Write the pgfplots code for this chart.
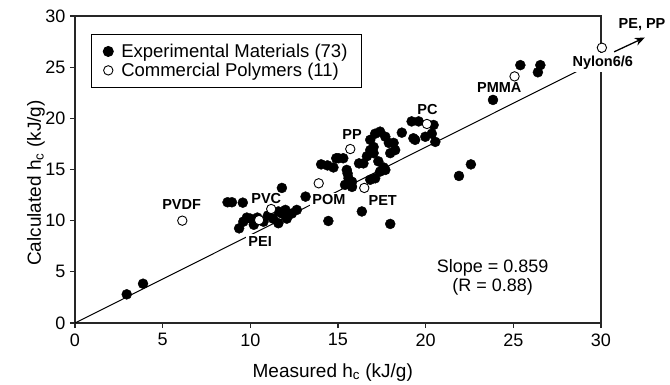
\documentclass[border=0pt]{standalone}
\usepackage{fontspec}
\setmainfont{Liberation Sans}
\usepackage{pgfplots}
\pgfplotsset{compat=1.18}
\usetikzlibrary{arrows.meta}

\newcommand{\lbl}{\fontsize{14.5}{17}\selectfont\bfseries}

\begin{document}
\begin{tikzpicture}
\useasboundingbox (-75pt,-61pt) rectangle (595pt,323pt);
\begin{axis}[
  scale only axis, width=526pt, height=307pt,
  xmin=0, xmax=30, ymin=0, ymax=30,
  xtick={0,5,...,30}, ytick={0,5,...,30},
  tick pos=left, tick align=outside, major tick length=5pt,
  axis line style={line width=1.3pt, black!85},
  every tick/.style={line width=1.1pt, black!85},
  tick label style={font=\fontsize{18}{21}\selectfont},
  /pgf/number format/assume math mode=true,
  xticklabel style={yshift=-2pt},
  yticklabel style={xshift=-1pt},
  xlabel={Measured h\textsubscript{c} (kJ/g)},
  ylabel={Calculated h\textsubscript{c} (kJ/g)},
  label style={font=\fontsize{19}{22}\selectfont},
  xlabel style={at={(axis description cs:0.49,-0.16)}, anchor=center},
  ylabel style={at={(axis description cs:-0.074,0.456)}, anchor=center},
  clip=false,
  legend cell align=left,
  legend image code/.code={\draw[mark repeat=2,mark phase=2,#1] plot coordinates {(0pt,0pt) (5pt,0pt) (10pt,0pt)};},
  legend style={at={(0.03,0.943)}, anchor=north west, draw=black, line width=1pt,
    font=\fontsize{18.5}{21}\selectfont, inner xsep=12pt, inner ysep=8pt, row sep=0pt,
    /tikz/every odd column/.append style={column sep=6pt}},
]
% least-squares fit through the origin
\addplot[black, line width=1pt, forget plot] coordinates {(0,0) (30,25.77)};

% polymer names
\node[font=\lbl] at (axis cs:6.08,11.56) {PVDF};
\node[font=\lbl] at (axis cs:10.91,12.15) {PVC};
\node[font=\lbl, fill=white, inner sep=2pt] at (axis cs:10.56,7.98) {PEI};
\node[font=\lbl, fill=white, inner sep=2pt] at (axis cs:14.48,12.05) {POM};
\node[font=\lbl] at (axis cs:15.8,18.4) {PP};
\node[font=\lbl] at (axis cs:17.55,11.94) {PET};
\node[font=\lbl] at (axis cs:20.1,20.9) {PC};
\node[font=\lbl] at (axis cs:24.2,23.02) {PMMA};
\node[font=\lbl, fill=white, inner sep=3pt] at (axis cs:30.1,25.46) {Nylon6/6};
\node[font=\lbl] at (axis cs:32.34,29.2) {PE, PP};
\draw[-{Stealth[length=10pt,width=8pt]}, line width=1.3pt] (axis cs:30.75,26.5) -- (axis cs:32.5,27.9);

\node[font=\fontsize{18}{18.5}\selectfont, align=center] at (axis cs:23.82,4.45) {Slope = 0.859\\(R = 0.88)};

\addplot[only marks, mark=*, mark size=5pt, mark options={fill=black, draw=black}] table {
x y
2.95 2.8
3.88 3.84
8.7 11.8
8.95 11.8
9.57 11.76
11.8 13.2
13.15 12.35
14.45 9.97
9.36 9.25
9.6 9.9
9.8 10.3
10.0 10.2
10.2 9.6
10.4 10.3
10.75 9.9
11.0 10.5
11.3 10.2
11.6 9.75
11.8 10.7
12.0 11.05
12.08 10.2
12.37 10.7
12.65 11.05
11.6 10.9
14.04 15.5
14.4 15.4
14.74 15.2
14.9 16.1
15.03 16.1
15.3 16.1
15.5 14.96
15.55 14.6
15.6 14.14
15.4 13.5
15.8 13.3
15.8 13.8
16.2 15.6
16.45 15.6
16.65 16.3
16.84 16.9
17.03 16.6
17.03 17.2
16.84 17.9
17.12 18.5
17.4 18.7
17.7 18.2
17.9 17.6
17.98 16.6
17.3 15.8
17.6 15.2
17.4 14.8
17.7 14.96
17.12 14.14
16.84 14.0
18.17 17.6
18.26 16.9
18.64 18.6
19.4 17.9
19.3 18.05
19.2 19.7
19.6 19.7
20.45 19.35
20.35 18.5
20.55 17.7
19.98 18.2
16.36 10.9
17.98 9.68
21.9 14.37
22.58 15.5
23.84 21.8
25.4 25.2
26.54 25.2
26.4 24.5
};
\addlegendentry{Experimental Materials (73)}

\addplot[only marks, mark=*, mark size=4.7pt, mark options={fill=white, draw=black, line width=0.9pt}] table {
x y
6.12 10.0
10.5 10.06
11.19 11.14
13.9 13.65
15.7 17.0
16.5 13.2
20.07 19.45
25.07 24.1
30.05 26.9
};
\addlegendentry{Commercial Polymers (11)}
\end{axis}
\end{tikzpicture}
\end{document}
